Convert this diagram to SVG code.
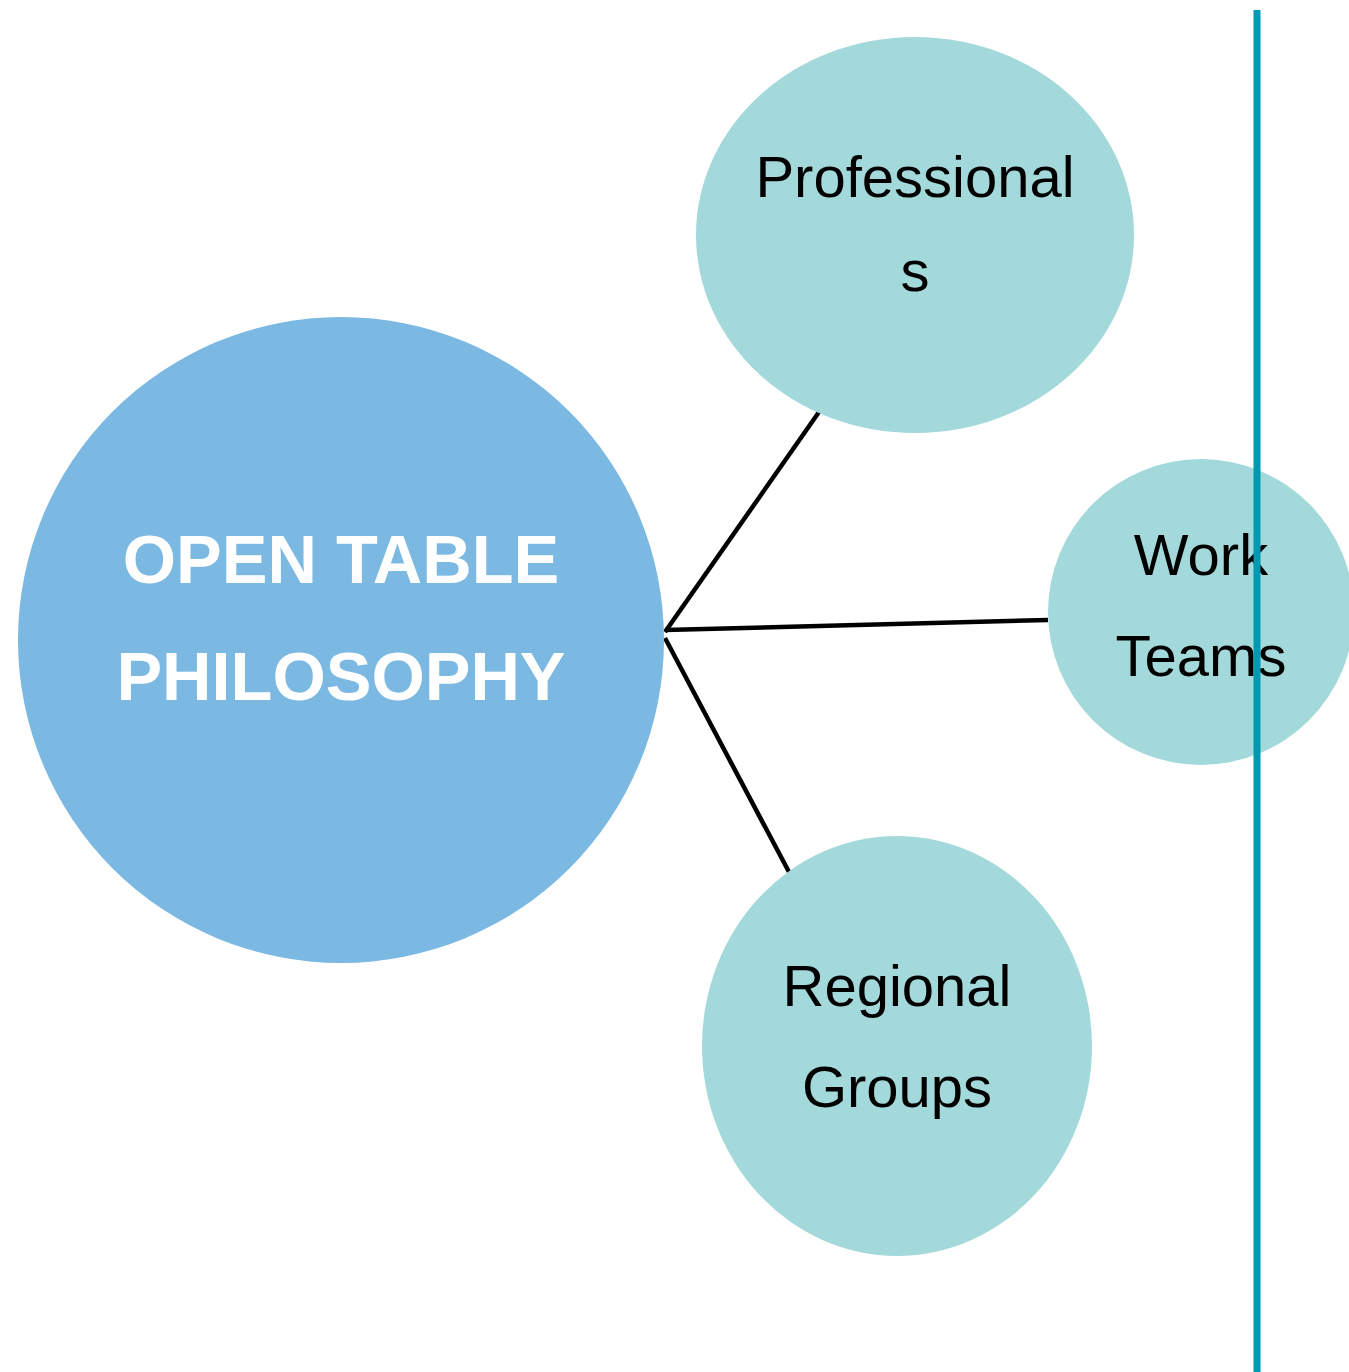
<svg xmlns="http://www.w3.org/2000/svg" width="1349" height="1372" viewBox="0 0 1349 1372">
<style>
.main{fill:#7bb9e3}
.sub{fill:#a4d9db}
.lbl{font-family:"Liberation Sans",Arial,sans-serif;font-size:58px;fill:#000;text-anchor:middle}
.big{font-family:"Liberation Sans",Arial,sans-serif;font-size:68.5px;font-weight:bold;fill:#fff;text-anchor:middle}
.conn{stroke:#000;stroke-width:4.5;fill:none;stroke-linecap:butt}
</style>
<rect width="1349" height="1372" fill="#fff"/>
<g id="connectors">
<line class="conn" x1="665" y1="632" x2="819" y2="412"/>
<line class="conn" x1="665" y1="630" x2="1048" y2="620"/>
<line class="conn" x1="665" y1="638" x2="789" y2="872"/>
</g>
<g id="node-main">
<circle class="main" cx="341" cy="640" r="323"/>
<text class="big" x="341" y="583">OPEN TABLE</text>
<text class="big" x="341" y="700">PHILOSOPHY</text>
</g>
<g id="node-professionals">
<ellipse class="sub" cx="915" cy="235" rx="219" ry="198"/>
<text class="lbl" x="915" y="197">Professional</text>
<text class="lbl" x="915" y="291">s</text>
</g>
<g id="node-workteams">
<circle class="sub" cx="1201" cy="612" r="153"/>
<text class="lbl" x="1201" y="575">Work</text>
<text class="lbl" x="1201" y="676">Teams</text>
</g>
<g id="node-regional">
<ellipse class="sub" cx="897" cy="1046" rx="195" ry="210"/>
<text class="lbl" x="897" y="1006">Regional</text>
<text class="lbl" x="897" y="1107">Groups</text>
</g>
<g id="divider">
<line x1="1257" y1="10" x2="1257" y2="1372" stroke="#0099b4" stroke-width="7"/>
</g>
</svg>
